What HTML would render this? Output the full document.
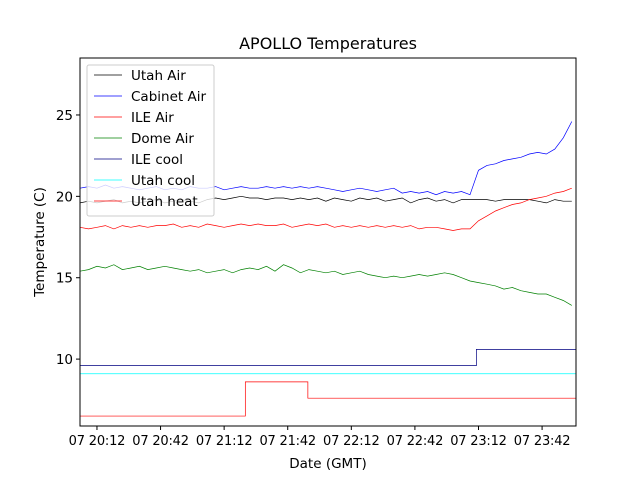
<!DOCTYPE html>
<html><head><meta charset="utf-8"><style>
body{margin:0;background:#fff}
svg{display:block;font-family:"DejaVu Sans","Liberation Sans",sans-serif}
</style></head><body>
<svg id="chart" width="640" height="480" viewBox="0 0 640 480" xmlns="http://www.w3.org/2000/svg"></svg>
<script>
const tickLabels = ["07 20:12","07 20:42","07 21:12","07 21:42","07 22:12","07 22:42","07 23:12","07 23:42"];
const tickMinutes = [8,38,68,98,128,158,188,218];
const yTicks = [10,15,20,25];
const sampleStep = 4;
const cabinetAir = [20.5,20.6,20.5,20.7,20.5,20.6,20.5,20.4,20.5,20.6,20.4,
20.5,20.4,20.6,20.5,20.5,20.6,20.4,20.5,20.6,20.5,20.5,20.6,20.5,20.6,20.5,
20.6,20.5,20.6,20.5,20.4,20.3,20.4,20.5,20.4,20.3,20.4,20.5,20.2,20.3,20.2,20.3,20.1,20.3,20.2,20.3,20.1,
21.6,21.9,22.0,22.2,22.3,22.4,22.6,22.7,22.6,22.9,23.6,24.6];
const utahAir = [19.6,19.7,19.6,19.7,19.8,19.6,19.7,19.6,19.7,19.8,19.6,
19.7,19.8,19.7,19.6,19.8,19.9,19.8,19.9,20.0,19.9,19.9,19.8,19.9,19.9,19.8,
19.9,19.8,19.9,19.7,19.9,19.8,19.7,19.9,19.8,19.9,19.7,19.8,19.9,19.6,19.8,19.9,19.7,19.8,19.6,19.8,19.8,
19.8,19.8,19.7,19.8,19.8,19.8,19.8,19.7,19.6,19.8,19.7,19.7];
const ileAir = [18.1,18.0,18.1,18.2,18.0,18.2,18.1,18.2,18.1,18.2,18.2,
18.3,18.1,18.2,18.1,18.3,18.2,18.1,18.2,18.3,18.2,18.3,18.2,18.2,18.3,18.1,
18.2,18.3,18.2,18.3,18.1,18.2,18.1,18.2,18.1,18.2,18.1,18.2,18.1,18.2,18.0,18.1,18.1,18.0,17.9,18.0,18.0,
18.5,18.8,19.1,19.3,19.5,19.6,19.8,19.9,20.0,20.2,20.3,20.5];
const domeAir = [15.4,15.5,15.7,15.6,15.8,15.5,15.6,15.7,15.5,15.6,15.7,
15.6,15.5,15.4,15.5,15.3,15.4,15.5,15.3,15.5,15.6,15.5,15.7,15.4,15.8,15.6,
15.3,15.5,15.4,15.3,15.4,15.2,15.3,15.4,15.2,15.1,15.0,15.1,15.0,15.1,15.2,15.1,15.2,15.3,15.2,15.0,14.8,
14.7,14.6,14.5,14.3,14.4,14.2,14.1,14.0,14.0,13.8,13.6,13.3];
const ileCoolTimes = [0,187,234];
const ileCoolValues = [9.6,10.6,10.6];
const utahCoolTimes = [0,234];
const utahCoolValues = [9.1,9.1];
const utahHeatTimes = [0,78,107.5,234];
const utahHeatValues = [6.5,8.6,7.6,7.6];

const L=80,R=576,T=58,B=426, tMax=234, yMin=5.89, yMax=28.5;
const xs=t=>L+(t/tMax)*(R-L);
const ys=v=>B-(v-yMin)/(yMax-yMin)*(B-T);
const NS="http://www.w3.org/2000/svg";
const svg=document.getElementById('chart');
function mk(tag,attrs,parent){const e=document.createElementNS(NS,tag);for(const k in attrs)e.setAttribute(k,attrs[k]);(parent||svg).appendChild(e);return e;}

let t=mk('text',{x:328,y:49,'text-anchor':'middle','font-size':16});t.textContent='APOLLO Temperatures';



function line(vals,color,name){
  const pts=vals.map((v,i)=>xs(Math.min(i*sampleStep,tMax)).toFixed(1)+','+ys(v).toFixed(1)).join(' ');
  const p=mk('polyline',{points:pts,fill:'none',stroke:color,'stroke-width':0.7});
  
  
}
function step(times,vals,color,name){
  let d='M'+xs(times[0])+','+ys(vals[0]);
  for(let i=1;i<times.length;i++){d+=' H'+xs(times[i])+' V'+ys(vals[i]);}
  const p=mk('path',{d:d,fill:'none',stroke:color,'stroke-width':0.7});
  
  
}
line(utahAir,'#000','utah-air-line');
line(cabinetAir,'#0000ff','cabinet-air-line');
line(ileAir,'#ff0000','ile-air-line');
line(domeAir,'#008000','dome-air-line');
step(ileCoolTimes,ileCoolValues,'#000080','ile-cool-line');
step(utahCoolTimes,utahCoolValues,'#00ffff','utah-cool-line');
step(utahHeatTimes,utahHeatValues,'#ff0000','utah-heat-line');

const fr=mk('rect',{x:L,y:T,width:R-L,height:B-T,fill:'none',stroke:'#000','stroke-width':1});



tickMinutes.forEach((m,i)=>{
  const x=xs(m);
  mk('line',{x1:x,x2:x,y1:B,y2:B+4,stroke:'#000'});
  const tx=mk('text',{x:x,y:B+19,'text-anchor':'middle','font-size':13,'letter-spacing':'-0.2'});
  tx.textContent=tickLabels[i];
  
  
});
yTicks.forEach(v=>{
  const y=ys(v);
  mk('line',{x1:L-4,x2:L,y1:y,y2:y,stroke:'#000'});
  const tx=mk('text',{x:L-7,y:y+5,'text-anchor':'end','font-size':13.5});
  tx.textContent=v;
  
  
});
t=mk('text',{x:328,y:468,'text-anchor':'middle','font-size':13.5});t.textContent='Date (GMT)';


t=mk('text',{x:0,y:0,'text-anchor':'middle','font-size':13.5,transform:'translate(44,242) rotate(-90)'});t.textContent='Temperature (C)';



const lg=mk('g',{});


mk('rect',{x:87,y:65,width:127,height:151,rx:2,fill:'#fff','fill-opacity':0.8,stroke:'#ccc'},lg);
const legNames=['Utah Air','Cabinet Air','ILE Air','Dome Air','ILE cool','Utah cool','Utah heat'];
const legColors=['#000','#0000ff','#ff0000','#008000','#000080','#00ffff','#ff0000'];
legNames.forEach((n,i)=>{
  const y=75+i*21;
  mk('line',{x1:94,x2:122,y1:y,y2:y,stroke:legColors[i],'stroke-width':0.7},lg);
  const tx=mk('text',{x:131,y:y+5,'font-size':13.5},lg);
  tx.textContent=n;
  
  
});
</script>
</body></html>
